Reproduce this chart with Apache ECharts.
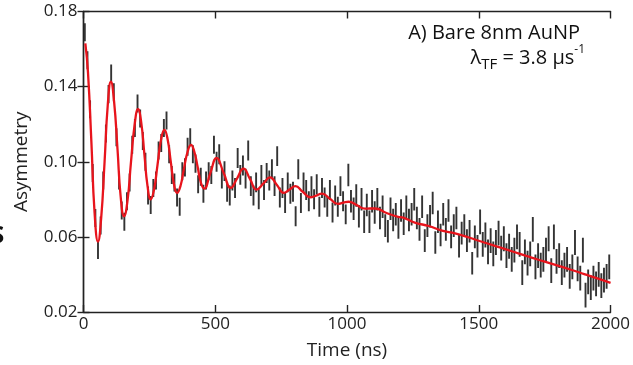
<!DOCTYPE html>
<html>
<head>
<meta charset="utf-8">
<script src="https://cdn.jsdelivr.net/npm/echarts@6/dist/echarts.min.js"></script>
<style>
  html, body { margin: 0; padding: 0; background: #fff; }
  #chart { width: 633px; height: 365px; }
</style>
</head>
<body>
<div id="chart"></div>
<script>
// measured asymmetry, one bin every 10 ns starting at 5 ns
var BIN_START = 5;
var BIN_WIDTH = 10;
var asym = [
  0.169, 0.154, 0.128, 0.094, 0.070, 0.053, 0.066, 0.090, 0.115, 0.136,
  0.147, 0.137, 0.113, 0.090, 0.074, 0.068, 0.079, 0.089, 0.109, 0.118,
  0.131, 0.123, 0.111, 0.100, 0.082, 0.077, 0.086, 0.090, 0.106, 0.110,
  0.118, 0.122, 0.104, 0.093, 0.089, 0.081, 0.076, 0.095, 0.097, 0.108,
  0.113, 0.104, 0.099, 0.088, 0.092, 0.083, 0.090, 0.095, 0.093, 0.109,
  0.100, 0.104, 0.091, 0.095, 0.084, 0.082, 0.090, 0.086, 0.102, 0.093,
  0.098, 0.091, 0.106, 0.087, 0.082, 0.089, 0.080, 0.093, 0.085, 0.094,
  0.090, 0.096, 0.087, 0.103, 0.081, 0.086, 0.078, 0.089, 0.083, 0.084,
  0.071, 0.096, 0.078, 0.089, 0.085, 0.079, 0.087, 0.080, 0.088, 0.076,
  0.086, 0.081, 0.076, 0.085, 0.073, 0.082, 0.076, 0.087, 0.079, 0.072,
  0.093, 0.079, 0.075, 0.082, 0.071, 0.080, 0.068, 0.077, 0.068, 0.079,
  0.073, 0.080, 0.070, 0.076, 0.066, 0.063, 0.075, 0.069, 0.072, 0.065,
  0.074, 0.067, 0.076, 0.069, 0.072, 0.080, 0.070, 0.064, 0.076, 0.058,
  0.066, 0.071, 0.078, 0.057, 0.068, 0.061, 0.072, 0.064, 0.074, 0.060,
  0.066, 0.070, 0.055, 0.062, 0.066, 0.058, 0.063, 0.046, 0.060, 0.055,
  0.068, 0.056, 0.061, 0.052, 0.058, 0.051, 0.057, 0.062, 0.054, 0.059,
  0.050, 0.055, 0.048, 0.053, 0.060, 0.056, 0.041, 0.052, 0.046, 0.051,
  0.064, 0.044, 0.050, 0.045, 0.048, 0.053, 0.059, 0.042, 0.060, 0.047,
  0.050, 0.041, 0.045, 0.048, 0.039, 0.044, 0.057, 0.043, 0.038, 0.053,
  0.029, 0.036, 0.033, 0.038, 0.035, 0.040, 0.034, 0.037, 0.039, 0.044
];
// half length of the error bars, per 500 ns stretch
var errHalf = [0.0048, 0.0053, 0.0060, 0.0066];

// fitted curve (red)
var fitT = [7,17,30,42,55,67,80,92,104,116,129,141,154,167,180,194,207,219,231,243,
  255,268,281,294,307,319,331,343,355,368,381,395,408,420,433,445,458,481,505,532,
  559,583,607,632,657,683,708,734,760,782,804,832,861,883,905,935,965,986,1006,1037,
  1068,1087,1106,1150,1194,1213,1260,1310,1360,1410,1460,1503,1550,1600,1650,1700,
  1750,1800,1850,1900,1950,2000];
var fitV = [0.163,0.1476,0.1103,0.073,0.0575,0.0699,0.100,0.1301,0.1426,0.1321,
  0.1068,0.0815,0.071,0.0793,0.0995,0.1197,0.128,0.121,0.104,0.087,
  0.080,0.0854,0.0985,0.1116,0.117,0.1121,0.1002,0.0883,0.0834,0.0871,
  0.0962,0.1053,0.109,0.1056,0.0974,0.0891,0.0857,0.0939,0.102,0.094,
  0.0861,0.0912,0.0963,0.0907,0.0852,0.0885,0.0917,0.0876,0.0834,0.0852,
  0.087,0.084,0.0811,0.082,0.083,0.0803,0.0776,0.0782,0.0787,0.0769,
  0.075,0.0751,0.0751,0.0727,0.0707,0.0703,0.0675,0.0658,0.0633,0.0619,
  0.0598,0.0578,0.0557,0.0535,0.0512,0.049,0.0468,0.0447,0.0425,0.0402,
  0.0379,0.0355];

var xTicks = [0, 500, 1000, 1500, 2000];
var yTicks = [0.02, 0.06, 0.10, 0.14, 0.18];

var pts = asym.map(function (v, i) {
  var t = BIN_START + BIN_WIDTH * i;
  var e = errHalf[Math.min(errHalf.length - 1, Math.floor(t / 500))];
  return [t, v, e];
});
var fit = fitT.map(function (t, i) { return [t, fitV[i]]; });

var font = '"Open Sans", "Noto Sans", sans-serif';
var axColor = '#222';

var myChart = echarts.init(document.getElementById('chart'));
var option = {
  animation: false,
  backgroundColor: '#fff',
  grid: { left: 83.5, right: 20.5, top: 11.5, bottom: 52 },
  xAxis: [{
    type: 'value', min: xTicks[0], max: xTicks[xTicks.length - 1], interval: 500,
    name: 'Time (ns)', nameLocation: 'middle', nameGap: 29,
    nameTextStyle: { fontFamily: font, fontSize: 19, color: '#222' },
    axisLine: { lineStyle: { color: axColor, width: 1.4 } },
    axisTick: { inside: true, length: 7, lineStyle: { color: axColor, width: 1.4 } },
    axisLabel: { fontFamily: font, fontSize: 17, color: '#222', margin: 4,
      formatter: function (v) { return String(v); } },
    splitLine: { show: false }
  }, {
    type: 'value', position: 'top', min: xTicks[0], max: xTicks[xTicks.length - 1], interval: 500,
    axisLine: { lineStyle: { color: axColor, width: 1.4 } },
    axisTick: { inside: true, length: 7, lineStyle: { color: axColor, width: 1.4 } },
    axisLabel: { show: false }, splitLine: { show: false }
  }],
  yAxis: [{
    type: 'value', min: yTicks[0], max: yTicks[yTicks.length - 1], interval: 0.04,
    name: 'Asymmetry', nameLocation: 'middle', nameGap: 52, nameRotate: 90,
    nameTextStyle: { fontFamily: font, fontSize: 19, color: '#222' },
    axisLine: { lineStyle: { color: axColor, width: 1.4 } },
    axisTick: { inside: true, length: 6, lineStyle: { color: axColor, width: 1.4 } },
    axisLabel: { fontFamily: font, fontSize: 17, color: '#222', margin: 6,
      formatter: function (v) { return v.toFixed(2); } },
    splitLine: { show: false }
  }, {
    type: 'value', position: 'right', min: yTicks[0], max: yTicks[yTicks.length - 1], interval: 0.04,
    axisLine: { lineStyle: { color: axColor, width: 1.4 } },
    axisTick: { inside: true, length: 6, lineStyle: { color: axColor, width: 1.4 } },
    axisLabel: { show: false }, splitLine: { show: false }
  }],
  series: [{
    type: 'custom',
    clip: true,
    data: pts,
    renderItem: function (params, api) {
      var t = api.value(0), v = api.value(1), e = api.value(2);
      var p1 = api.coord([t, v + e]);
      var p2 = api.coord([t, v - e]);
      return {
        type: 'line',
        shape: { x1: p1[0], y1: p1[1], x2: p2[0], y2: p2[1] },
        style: { stroke: '#333', lineWidth: 1.9 }
      };
    },
    z: 2
  }, {
    type: 'line',
    data: fit,
    smooth: 0.5,
    showSymbol: false,
    lineStyle: { color: '#e8141c', width: 2.3 },
    z: 3
  }],
  graphic: [{
    type: 'text', right: 53, top: 23,
    style: { text: 'A) Bare 8nm AuNP', font: '20px ' + font, fill: '#111' }
  }, {
    type: 'text', right: 48, top: 44,
    style: {
      text: '{a|λ}{sub|TF}{a| = 3.8 μs}{sup|-1}',
      rich: {
        a: { fontFamily: font, fontSize: 20, fill: '#111', lineHeight: 28, verticalAlign: 'middle' },
        sub: { fontFamily: font, fontSize: 15, fill: '#111', lineHeight: 28, verticalAlign: 'bottom' },
        sup: { fontFamily: font, fontSize: 12, fill: '#111', lineHeight: 28, verticalAlign: 'top' }
      }
    }
  }, {
    type: 'text', left: -9, top: 224,
    style: { text: 'S', font: 'bold 24px ' + font, fill: '#111' }
  }]
};
myChart.setOption(option);
</script>
</body>
</html>
